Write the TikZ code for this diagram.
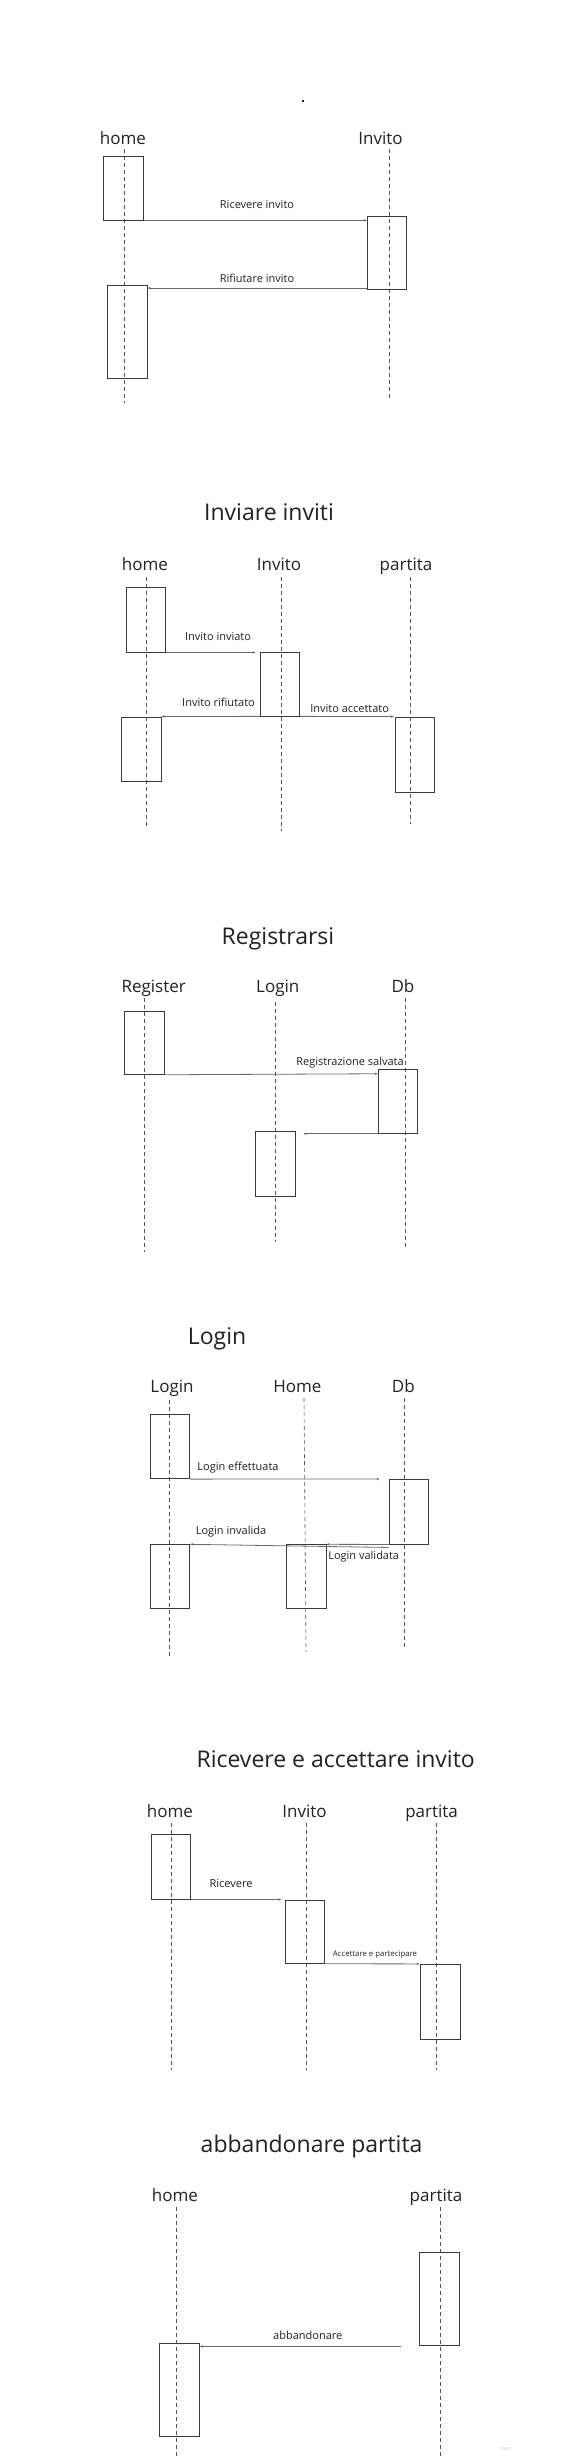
\documentclass[tikz,border=0pt]{standalone}
\usepackage{fontspec}
\setmainfont{Open Sans}
\usepackage{tikz}
\usetikzlibrary{arrows.meta}
\definecolor{inkgray}{HTML}{222222}
\definecolor{boxgray}{HTML}{3A3A3A}
\definecolor{arrowgray}{HTML}{6A6A6A}
\definecolor{lifegray}{HTML}{555555}
\definecolor{marklight}{HTML}{C8C8C8}

\begin{document}
\begin{tikzpicture}[x=1pt,y=-1pt,
    headtitle/.style={anchor=base,font=\fontsize{23}{26}\selectfont,text=inkgray},
    actorname/.style={anchor=base,font=\fontsize{17}{20}\selectfont,text=inkgray},
    msgtext/.style={anchor=base,font=\fontsize{11}{13}\selectfont,text=inkgray},
    actbox/.style={draw=boxgray,line width=0.8pt,minimum width=39.6pt,minimum height=64pt,inner sep=0pt},
    lifeline/.style={draw=lifegray,dash pattern=on 4pt off 3pt,line width=0.6pt},
    msgarrow/.style={draw=arrowgray,line width=0.8pt,-{Stealth[length=3pt,width=2.4pt]}}]
        \useasboundingbox[fill=white] (0,0) rectangle (578,2462);

        % ricevere / rifiutare invito
        \fill[inkgray] (302,100) rectangle (304,102);
        \node[actorname] (homeA) at (123,144.3) {home};
        \node[actorname] (invitoA) at (380.5,144.3) {Invito};
        \foreach \x/\ya/\yb in {124/149/403,389/149/398}{\draw[lifeline] (\x,\ya)--(\x,\yb);}
        \node[actbox] (homeA1) at (123.5,188) {};
        \node[actbox,minimum height=73pt] (invitoA1) at (387,252.5) {};
        \node[actbox,minimum height=92.3pt] (homeA2) at (127.6,331.9) {};
        \coordinate (rifAstart) at ([yshift=1.3pt]invitoA1.south west);
        \draw[msgarrow] (homeA1.south east)--(invitoA1.west |- homeA1.south east);
        \draw[msgarrow] (rifAstart)--(homeA2.east |- rifAstart);
        \node[msgtext] (ricA) at (257,208.3) {Ricevere invito};
        \node[msgtext] (rifA) at (257,282.3) {Rifiutare invito};

        % inviare inviti
        \node[headtitle] (titleB) at (269,520.7) {Inviare inviti};
        \node[actorname] (homeB) at (145,570) {home};
        \node[actorname] (invitoB) at (279,570) {Invito};
        \node[actorname] (partitaB) at (406,570) {partita};
        \foreach \x/\ya/\yb in {146/577/829,281/577/831,410/577/824}{\draw[lifeline] (\x,\ya)--(\x,\yb);}
        \node[actbox,minimum height=65pt] (homeB1) at (145.8,619.5) {};
        \node[actbox,minimum height=63.3pt] (invitoB1) at (279.8,684.3) {};
        \node[actbox,minimum height=64.7pt] (homeB2) at (141.3,749.3) {};
        \node[actbox,minimum height=75pt] (partitaB1) at (415,754.5) {};
        \draw[msgarrow] (homeB1.south east)--([xshift=-4pt]invitoB1.west |- homeB1.south east);
        \draw[msgarrow] (invitoB1.south west)--(homeB2.north east);
        \draw[msgarrow] (invitoB1.south east)--([xshift=-1pt]partitaB1.north west);
        \node[msgtext] (invB) at (218,640) {Invito inviato};
        \node[msgtext] (rifB) at (218.5,706.7) {Invito rifiutato};
        \node[msgtext] (accB) at (349.6,712.3) {Invito accettato};

        % registrarsi
        \node[headtitle] (titleC) at (278,944.3) {Registrarsi};
        \node[actorname] (registerC) at (153.7,992.7) {Register};
        \node[actorname] (loginC) at (277.8,992.7) {Login};
        \node[actorname] (dbC) at (403,992.7) {Db};
        \foreach \x/\ya/\yb in {144/998/1251.7,275/1001.7/1241.7,405.6/998/1246.7}{\draw[lifeline] (\x,\ya)--(\x,\yb);}
        \node[actbox,minimum height=63.3pt] (registerC1) at (144.2,1042.7) {};
        \node[actbox,minimum height=64.3pt] (dbC1) at (397.9,1101.2) {};
        \node[actbox,minimum height=64.6pt] (loginC1) at (275.3,1164) {};
        \draw[msgarrow] (registerC1.south east)--([yshift=1pt]dbC1.west |- registerC1.south east);
        \draw[msgarrow] (dbC1.south west)--([xshift=8pt]loginC1.east |- dbC1.south west);
        \node[msgtext] (regC) at (350,1065) {Registrazione salvata};

        % login
        \node[headtitle] (titleD) at (217,1344) {Login};
        \node[actorname] (loginD) at (172,1392.7) {Login};
        \node[actorname] (homeD) at (297.4,1392.7) {Home};
        \node[actorname] (dbD) at (403.3,1392.7) {Db};
        \draw[lifeline] (169.6,1400)--(169.6,1658);
        \draw[lifeline] (304,1398)--(306,1651.7);
        \draw[lifeline] (404.4,1398)--(404.4,1646.7);
        \node[actbox,minimum height=64.4pt] (loginD1) at (169.8,1446.5) {};
        \node[actbox,minimum height=64.7pt] (dbD1) at (408.8,1511.7) {};
        \node[actbox,minimum height=63.6pt] (loginD2) at (169.8,1576.5) {};
        \node[actbox,minimum height=63.6pt] (homeD1) at (306.2,1576.5) {};
        \draw[msgarrow] (loginD1.south east)--([xshift=-9pt]dbD1.north west);
        \draw[msgarrow] ([yshift=-3pt]dbD1.south west)--(loginD2.north east);
        \draw[msgarrow] (dbD1.south west)--(homeD1.north east);
        \node[msgtext] (effD) at (238,1470.7) {Login effettuata};
        \node[msgtext] (invD) at (231,1534) {Login invalida};
        \node[msgtext] (valD) at (363.7,1559.3) {Login validata};

        % ricevere e accettare invito
        \node[headtitle] (titleE) at (335.7,1767.7) {Ricevere e accettare invito};
        \node[actorname] (homeE) at (170,1817.3) {home};
        \node[actorname] (invitoE) at (304.6,1817.3) {Invito};
        \node[actorname] (partitaE) at (431.6,1817.3) {partita};
        \foreach \x in {171.5,306,436}{\draw[lifeline] (\x,1823)--(\x,2070);}
        \node[actbox,minimum height=64.7pt] (homeE1) at (170.9,1866.7) {};
        \node[actbox,minimum height=63.3pt] (invitoE1) at (304.9,1931.7) {};
        \node[actbox,minimum height=75pt] (partitaE1) at (440.6,2001.8) {};
        \draw[msgarrow] (homeE1.south east)--([xshift=-3.5pt]invitoE1.west |- homeE1.south east);
        \draw[msgarrow] (invitoE1.south east)--([xshift=-1pt]partitaE1.north west);
        \node[msgtext] (ricE) at (231,1887.7) {Ricevere};
        \node[msgtext,font=\fontsize{7.8}{9}\selectfont] (accE) at (375,1956) {Accettare e partecipare};

        % abbandonare partita
        \node[headtitle] (titleF) at (311.6,2152.3) {abbandonare partita};
        \node[actorname] (homeF) at (175,2201) {home};
        \node[actorname] (partitaF) at (436,2201) {partita};
        \foreach \x in {176,440.4}{\draw[lifeline] (\x,2207.3)--(\x,2456.7);}
        \node[actbox,minimum width=40pt,minimum height=93pt] (partitaF1) at (439.6,2299.2) {};
        \node[actbox,minimum width=40pt,minimum height=93.4pt] (homeF1) at (179.6,2390) {};
        \coordinate (abbFstart) at ([xshift=-18.6pt,yshift=-0.3pt]partitaF1.south west);
        \draw[msgarrow] (abbFstart)--(homeF1.east |- abbFstart);
        \node[msgtext] (abbF) at (307.8,2339) {abbandonare};
        \node[anchor=base,font=\fontsize{5}{6}\selectfont,text=marklight] (miroF) at (506,2450.7) {miro};
\end{tikzpicture}
\end{document}
